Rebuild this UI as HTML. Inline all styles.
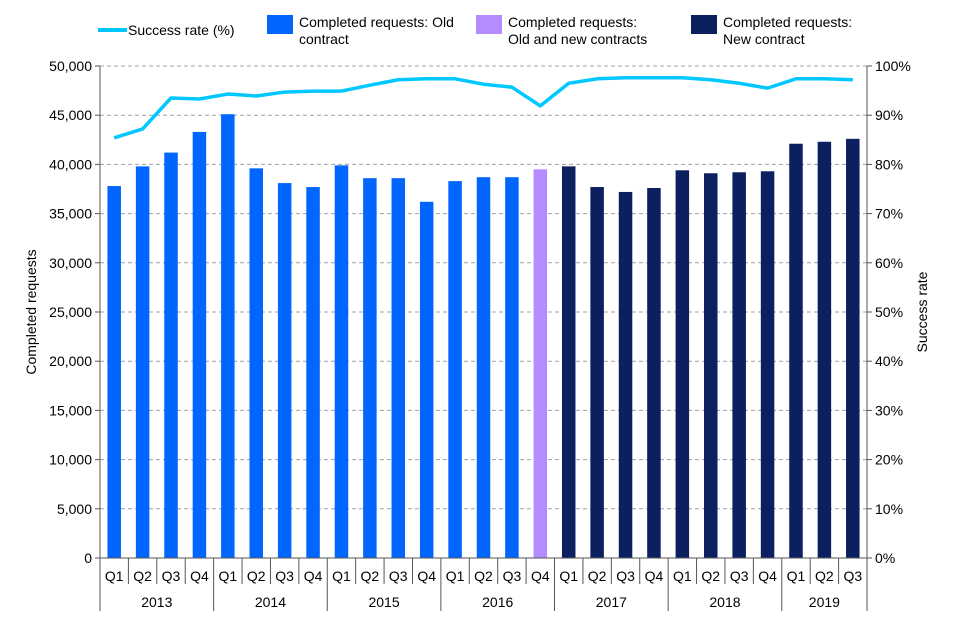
<!DOCTYPE html>
<html><head><meta charset="utf-8"><style>
body{margin:0;background:#fff;}
svg{display:block;font-family:"Liberation Sans",Arial,sans-serif;}
</style></head><body>
<svg id="chart" width="960" height="640">
<g id="legend">
 <g><line x1="98" y1="30" x2="127" y2="30" stroke="#00c8ff" stroke-width="4"/><text x="128" y="35" font-size="14">Success rate (%)</text></g>
 <g><rect x="267" y="15" width="26" height="19" fill="#0066ff"/><text x="299" y="27" font-size="14">Completed requests: Old</text><text x="299" y="44" font-size="14">contract</text></g>
 <g><rect x="476" y="15" width="26" height="19" fill="#b58cff"/><text x="508" y="27" font-size="14">Completed requests:</text><text x="508" y="44" font-size="14">Old and new contracts</text></g>
 <g><rect x="691" y="15" width="26" height="19" fill="#0c1f5e"/><text x="723" y="27" font-size="14">Completed requests:</text><text x="723" y="44" font-size="14">New contract</text></g>
</g>
<g id="grid"></g><g id="bars"></g><g id="line"></g><g id="axes"></g>
<text transform="translate(36,312) rotate(-90)" text-anchor="middle" font-size="14">Completed requests</text>
<text transform="translate(927,312) rotate(-90)" text-anchor="middle" font-size="14">Success rate</text>
</svg>
<script>
const quarters=["Q1","Q2","Q3","Q4","Q1","Q2","Q3","Q4","Q1","Q2","Q3","Q4","Q1","Q2","Q3","Q4","Q1","Q2","Q3","Q4","Q1","Q2","Q3","Q4","Q1","Q2","Q3"];
const years=["2013","2014","2015","2016","2017","2018","2019"];
const requests=[37800,39800,41200,43300,45100,39600,38100,37700,39900,38600,38600,36200,38300,38700,38700,39500,39800,37700,37200,37600,39400,39100,39200,39300,42100,42300,42600];
const contract=["old","old","old","old","old","old","old","old","old","old","old","old","old","old","old","both","new","new","new","new","new","new","new","new","new","new","new"];
const successRate=[85.4,87.2,93.5,93.3,94.3,93.9,94.7,94.9,94.9,96.1,97.2,97.4,97.4,96.3,95.7,91.9,96.5,97.4,97.6,97.6,97.6,97.2,96.5,95.5,97.4,97.4,97.2];
const leftTicks=[0,5000,10000,15000,20000,25000,30000,35000,40000,45000,50000];
const rightTicks=[0,10,20,30,40,50,60,70,80,90,100];

const NS="http://www.w3.org/2000/svg";
const X0=100,X1=867,Y0=558,Y1=66;
const cw=(X1-X0)/quarters.length;
const xc=i=>X0+cw*(i+0.5);
const yL=v=>Y0-(v/50000)*(Y0-Y1);
const yR=v=>Y0-(v/100)*(Y0-Y1);
const colors={old:"#0066ff",both:"#b58cff",new:"#0c1f5e"};
function mk(t,a,p,txt){const e=document.createElementNS(NS,t);for(const k in a)e.setAttribute(k,a[k]);if(txt!==undefined)e.textContent=txt;p.appendChild(e);return e;}
const grid=document.getElementById('grid'),bars=document.getElementById('bars'),line=document.getElementById('line'),axes=document.getElementById('axes');
leftTicks.forEach((v,i)=>{const y=yL(v);
 if(v>0){const g=mk('line',{x1:X0,x2:X1,y1:y,y2:y,stroke:'#a0a0a0','stroke-dasharray':'4,3'},grid);
 
 }
 const t=mk('text',{x:X0-8,y:y+5,'text-anchor':'end','font-size':14},axes,v.toLocaleString('en-US'));
 
 
 mk('line',{x1:X0-5,x2:X0,y1:y,y2:y,stroke:'#555'},axes);
});
rightTicks.forEach(v=>{const y=yR(v);
 const t=mk('text',{x:X1+8,y:y+5,'text-anchor':'start','font-size':14},axes,v+'%');
 
 
 mk('line',{x1:X1,x2:X1+5,y1:y,y2:y,stroke:'#555'},axes);
});
requests.forEach((v,i)=>{const bw=13.5;
 const r=mk('rect',{x:xc(i)-bw/2,y:yL(v),width:bw,height:Y0-yL(v),fill:colors[contract[i]]},bars);
 
 
});
const pts=successRate.map((v,i)=>xc(i)+','+yR(v)).join(' ');
const pl=mk('polyline',{points:pts,fill:'none',stroke:'#00c8ff','stroke-width':3.5,'stroke-linejoin':'round'},line);


mk('line',{x1:X0,x2:X0,y1:Y1,y2:Y0,stroke:'#555'},axes);
mk('line',{x1:X1,x2:X1,y1:Y1,y2:Y0,stroke:'#555'},axes);
mk('line',{x1:X0,x2:X1,y1:Y0,y2:Y0,stroke:'#555'},axes);
quarters.forEach((q,i)=>{
 const t=mk('text',{x:xc(i),y:581,'text-anchor':'middle','font-size':14},axes,q);
 
 
 const left=X0+cw*i; const isYear=i%4===0;
 mk('line',{x1:left,x2:left,y1:Y0,y2:isYear?611:584,stroke:'#555'},axes);
});
mk('line',{x1:X1,x2:X1,y1:Y0,y2:611,stroke:'#555'},axes);
years.forEach((y,j)=>{const n=Math.min(4,quarters.length-j*4);
 const t=mk('text',{x:X0+cw*(j*4+n/2),y:607,'text-anchor':'middle','font-size':14},axes,y);
 
 
});
</script>
</body></html>
